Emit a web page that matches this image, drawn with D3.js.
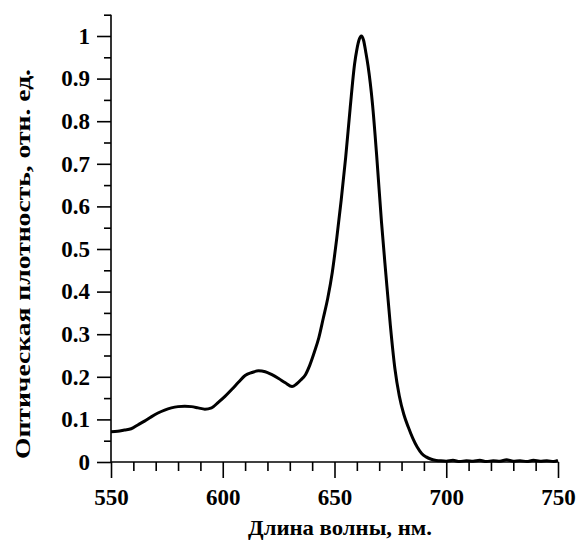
<!DOCTYPE html>
<html><head><meta charset="utf-8">
<script src="https://cdn.jsdelivr.net/npm/d3@7"></script>
<style>body{margin:0;background:#fff;} svg{display:block;}</style>
</head><body>
<script>
const wavelength = [550,553,556,559,562,565,568,571,574,577,580,583,586,589,592,595,598,601,604,607,610,613,616,619,622,625,628,631,633,635,637,639,641,643,645,647,649,651,653,655,657,659,660,661,662,663,664,665,667,669,671,673,675,677,679,681,683,685,687,689,691,693,695,697,700,703,706,709,712,715,718,721,724,727,730,733,736,739,742,745,748,750];
const absorbance = [0.071,0.072,0.075,0.078,0.087,0.096,0.106,0.115,0.122,0.127,0.130,0.131,0.130,0.127,0.124,0.127,0.140,0.154,0.170,0.187,0.203,0.210,0.214,0.212,0.205,0.196,0.186,0.177,0.183,0.193,0.205,0.228,0.258,0.292,0.338,0.385,0.445,0.525,0.615,0.715,0.830,0.935,0.968,0.991,1.000,0.990,0.962,0.930,0.840,0.710,0.565,0.440,0.320,0.220,0.155,0.112,0.082,0.056,0.035,0.020,0.012,0.007,0.004,0.003,0.002,0.004,0.001,0.003,0.002,0.004,0.001,0.003,0.002,0.005,0.002,0.003,0.001,0.004,0.002,0.003,0.001,0.004];
const xMajorTicks = [550,600,650,700,750];
const xMinorTicks = [560,570,580,590,610,620,630,640,660,670,680,690,710,720,730,740];
const yMajorTicks = [0,0.1,0.2,0.3,0.4,0.5,0.6,0.7,0.8,0.9,1];
const yMinorTicks = [0.05,0.15,0.25,0.35,0.45,0.55,0.65,0.75,0.85,0.95,1.05];
const xTitle = "Длина волны, нм.";
const yTitle = "Оптическая плотность, отн. ед.";

const W = 576, H = 548;
const font = "'Liberation Serif','Times New Roman',serif";
const svg = d3.select("body").append("svg").attr("width", W).attr("height", H);

const x = d3.scaleLinear().domain([550, 750]).range([111, 558]);
const y = d3.scaleLinear().domain([0, 1]).range([462, 36]);

const axStyle = g => {
  g.select(".domain").remove();
  g.selectAll("line").attr("stroke", "#000").attr("stroke-width", 1.6);
  g.selectAll("text").attr("font-family", font).attr("font-weight", "bold")
    .attr("font-size", 23).attr("fill", "#000");
};

// minor ticks
svg.append("g").attr("transform", `translate(0,${y(0)})`)
  .call(d3.axisBottom(x).tickValues(xMinorTicks).tickSize(9).tickFormat(""))
  .call(axStyle);
svg.append("g").attr("transform", `translate(${x(550)},0)`)
  .call(d3.axisLeft(y).tickValues(yMinorTicks).tickSize(7).tickFormat(""))
  .call(axStyle);
// major ticks
svg.append("g").attr("transform", `translate(0,${y(0)})`)
  .call(d3.axisBottom(x).tickValues(xMajorTicks).tickSize(16).tickPadding(11).tickFormat(d3.format("d")))
  .call(axStyle);
svg.append("g").attr("transform", `translate(${x(550)},0)`)
  .call(d3.axisLeft(y).tickValues(yMajorTicks).tickSize(14).tickPadding(7).tickFormat(d => d === 0 ? "0" : d === 1 ? "1" : d3.format(".1f")(d)))
  .call(axStyle);

// axis lines
svg.append("line").attr("x1", x(550)).attr("x2", x(750)).attr("y1", y(0)).attr("y2", y(0))
  .attr("stroke", "#000").attr("stroke-width", 1.6);
svg.append("line").attr("x1", x(550)).attr("x2", x(550)).attr("y1", y(0)).attr("y2", y(1.05))
  .attr("stroke", "#000").attr("stroke-width", 1.6);

// curve
const line = d3.line().x((d, i) => x(wavelength[i])).y(d => y(d)).curve(d3.curveMonotoneX);
svg.append("path").datum(absorbance).attr("d", line)
  .attr("fill", "none").attr("stroke", "#000").attr("stroke-width", 3).attr("stroke-linejoin", "round");

// titles
svg.append("text").attr("x", 340).attr("y", 535).attr("text-anchor", "middle")
  .attr("font-family", font).attr("font-weight", "bold").attr("font-size", 22)
  .attr("textLength", 184).attr("lengthAdjust", "spacingAndGlyphs").text(xTitle);
svg.append("text").attr("transform", "translate(30,264) rotate(-90)").attr("text-anchor", "middle")
  .attr("font-family", font).attr("font-weight", "bold").attr("font-size", 22)
  .attr("textLength", 390).attr("lengthAdjust", "spacingAndGlyphs").text(yTitle);
</script>
</body></html>
